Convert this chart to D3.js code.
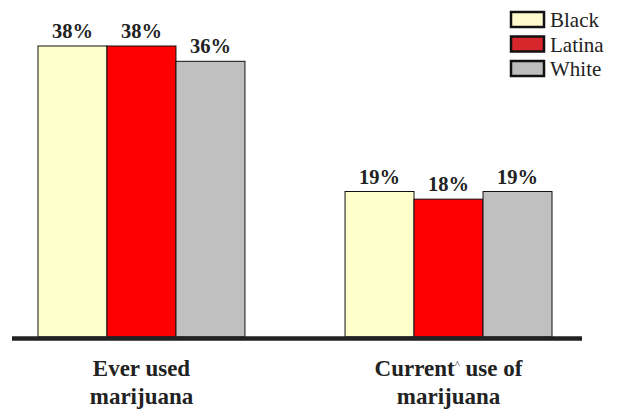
<!DOCTYPE html>
<html>
<head>
<meta charset="utf-8">
<script src="https://cdn.jsdelivr.net/npm/d3@7"></script>
<style>
  body { margin: 0; background: #fff; }
</style>
</head>
<body>
<div id="chart"></div>
<script>
// Chart data
var categories = ["Ever used|marijuana", "Current^ use of|marijuana"];
var groups = ["Black", "Latina", "White"];
var values = [
    [38, 38, 36],
    [19, 18, 19]
];
var barColors = ["#FFFFCC", "#FF0000", "#C0C0C0"];
var legendColors = ["#FFFACD", "#D7262C", "#BDBDBD"];

const width = 618, height = 412;
const serif = "'Liberation Serif', 'Times New Roman', Times, serif";

var svg = d3.select("#chart")
    .append("svg")
    .attr("width", width)
    .attr("height", height);

// scales
var x0 = d3.scaleBand()
    .domain(categories)
    .range([38, 552])
    .paddingInner(0.326);
var x1 = d3.scaleBand()
    .domain(groups)
    .range([0, x0.bandwidth()]);
var y = d3.scaleLinear()
    .domain([0, 38])
    .range([337, 46]);

// bars
var g = svg.selectAll(".group")
    .data(categories)
    .enter()
    .append("g")
    .attr("transform", d => "translate(" + x0(d) + ",0)");

g.selectAll("rect")
    .data((d, i) => values[i].map((v, j) => ({ group: groups[j], value: v, idx: j })))
    .enter()
    .append("rect")
    .attr("x", d => x1(d.group))
    .attr("y", d => y(d.value))
    .attr("width", x1.bandwidth())
    .attr("height", d => y(0) - y(d.value))
    .style("fill", d => barColors[d.idx])
    .style("stroke", "#111")
    .style("stroke-width", 1);

g.selectAll(".val")
    .data((d, i) => values[i].map((v, j) => ({ group: groups[j], value: v })))
    .enter()
    .append("text")
    .attr("class", "val")
    .attr("x", d => x1(d.group) + x1.bandwidth() / 2)
    .attr("y", d => y(d.value) - 8)
    .attr("text-anchor", "middle")
    .attr("font-family", serif)
    .attr("fill", "#222")
    .style("font-size", "20.5px")
    .style("font-weight", "bold")
    .text(d => d.value + "%");

// baseline
svg.append("line")
    .attr("x1", 12)
    .attr("x2", 582)
    .attr("y1", 338.5)
    .attr("y2", 338.5)
    .style("stroke", "#222")
    .style("stroke-width", 4.5);

// category labels
categories.forEach(c => {
    var lines = c.split("|");
    var cx = x0(c) + x0.bandwidth() / 2;
    lines.forEach((ln, k) => {
        var t = svg.append("text")
            .attr("x", cx)
            .attr("y", 376 + k * 28)
            .attr("text-anchor", "middle")
            .attr("font-family", serif)
            .attr("fill", "#222")
            .style("font-size", "23px")
            .style("font-weight", "bold");
        if (ln.includes("^")) {
            var parts = ln.split("^");
            t.append("tspan").text(parts[0]);
            t.append("tspan").text("^").style("font-size", "11px").style("font-weight", "normal").attr("dy", -8);
            t.append("tspan").text(parts[1]).attr("dy", 8);
        } else {
            t.text(ln);
        }
    });
});

// legend
var legend = svg.append("g")
    .attr("transform", "translate(511,12)");
groups.forEach((gname, i) => {
    legend.append("rect")
        .attr("x", 0)
        .attr("y", i * 24.5)
        .attr("width", 33)
        .attr("height", 15)
        .style("fill", legendColors[i])
        .style("stroke", "#111")
        .style("stroke-width", 2.5);
    legend.append("text")
        .attr("x", 39)
        .attr("y", i * 24.5 + 15)
        .attr("font-family", serif)
        .attr("fill", "#222")
        .style("font-size", "21px")
        .text(gname);
});
</script>
</body>
</html>
